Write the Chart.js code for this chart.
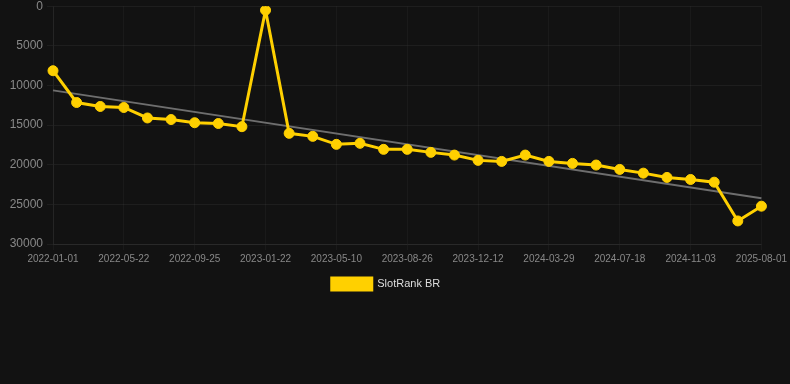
<!DOCTYPE html>
<html>
<head>
<meta charset="utf-8">
<script src="https://cdn.jsdelivr.net/npm/chart.js@4/dist/chart.umd.min.js"></script>
<style>
  html, body { margin: 0; padding: 0; background: #121212; overflow: hidden; }
  #wrap { position: relative; width: 790px; height: 305px; margin-top: -5px; }
</style>
</head>
<body>
<div id="wrap"><canvas id="c" width="790" height="305"></canvas></div>
<script>
const dates = [
  "2022-01-01","2022-02-17","2022-04-05","2022-05-22","2022-07-07","2022-08-16",
  "2022-09-25","2022-11-04","2022-12-13","2023-01-22","2023-02-28","2023-04-04",
  "2023-05-10","2023-06-15","2023-07-21","2023-08-26","2023-10-01","2023-11-06",
  "2023-12-12","2024-01-17","2024-02-22","2024-03-29","2024-05-05","2024-06-11",
  "2024-07-18","2024-08-23","2024-09-28","2024-11-03","2025-01-20","2025-05-01",
  "2025-08-01"
];
const rankBR = [
  8140, 12150, 12650, 12780, 14100, 14300, 14700, 14800, 15200, 500,
  16040, 16420, 17430, 17300, 18060, 18060, 18440, 18780, 19450, 19580,
  18780, 19580, 19830, 20040, 20590, 21060, 21600, 21860, 22200, 27090,
  25230
];
const trendStart = 10620;
const trendEnd = 24240;
const trend = dates.map((d, i) => i === 0 ? trendStart : (i === dates.length - 1 ? trendEnd : null));
const yTicks = [0, 5000, 10000, 15000, 20000, 25000, 30000];

new Chart(document.getElementById('c'), {
  type: 'line',
  data: {
    labels: dates,
    datasets: [
      {
        label: 'SlotRank BR',
        data: rankBR,
        borderColor: '#FFD000',
        backgroundColor: '#FFD000',
        borderWidth: 3,
        pointRadius: 5,
        pointBorderWidth: 1,
        pointHoverRadius: 5,
        pointBackgroundColor: '#FFD000',
        pointBorderColor: '#FFD000',
        tension: 0,
        order: 1
      },
      {
        label: 'trend',
        data: trend,
        spanGaps: true,
        borderColor: '#6e6e6e',
        borderWidth: 2,
        pointRadius: 0,
        order: 2
      }
    ]
  },
  options: {
    responsive: false,
    animation: false,
    layout: { padding: { top: 0, right: 18, left: 0, bottom: 0 } },
    plugins: {
      legend: {
        position: 'bottom',
        labels: {
          color: '#dddddd',
          boxWidth: 40,
          boxHeight: 12,
          font: { family: 'Arial, Liberation Sans, sans-serif', size: 11 },
          filter: item => item.text !== 'trend'
        }
      },
      tooltip: { enabled: false }
    },
    scales: {
      x: {
        offset: false,
        grid: { color: 'rgba(255,255,255,0.035)', tickLength: 6 },
        border: { color: 'rgba(255,255,255,0.05)' },
        ticks: {
          color: '#888888',
          font: { family: 'Arial, Liberation Sans, sans-serif', size: 10 },
          maxRotation: 0,
          autoSkip: true,
          callback: function(v, i) { return i % 3 === 0 ? dates[i] : null; }
        }
      },
      y: {
        reverse: true,
        min: 0,
        max: 30000,
        afterBuildTicks: axis => { axis.ticks = yTicks.map(v => ({ value: v })); },
        afterFit: axis => { axis.width = 53; },
        grid: { color: 'rgba(255,255,255,0.05)', tickLength: 6 },
        border: { color: 'rgba(255,255,255,0.05)' },
        ticks: {
          color: '#888888',
          font: { family: 'Arial, Liberation Sans, sans-serif', size: 12 },
          padding: 4,
          callback: v => String(v)
        }
      }
    }
  }
});
</script>
</body>
</html>
